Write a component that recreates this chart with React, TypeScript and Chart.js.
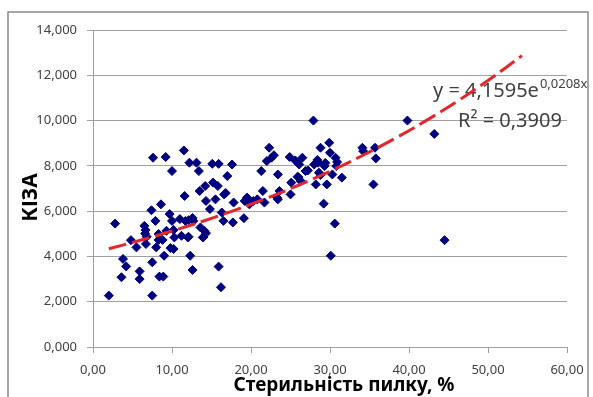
import React, { useEffect, useRef } from 'react';
import { Chart, registerables } from 'chart.js';

Chart.register(...registerables);

// Стерильність пилку, % (x) and КІЗА (y)
const sterility = [
  2.0, 2.8, 3.6, 3.8, 4.2, 4.8, 5.5, 5.9, 5.9, 6.5, 6.6, 6.7, 7.4, 7.6, 7.5, 7.5, 7.9, 8.0, 8.3, 8.6,
  8.4, 8.9, 9.0, 9.2, 9.3, 9.7, 10.0, 10.2, 10.0, 10.3, 11.0, 11.2, 11.5, 11.6, 11.7, 12.0, 12.2, 12.3, 12.6, 12.7,
  13.1, 13.4, 13.5, 13.6, 13.9, 14.1, 14.2, 14.3, 14.8, 15.1, 15.2, 15.5, 15.8, 15.9, 15.9, 16.2, 16.3, 16.5, 16.6, 17.0,
  17.6, 17.7, 17.8, 19.1, 19.2, 19.5, 19.8, 20.3, 20.8, 21.3, 21.5, 21.7, 22.0, 22.3, 22.6, 22.9, 23.4, 23.4, 23.6, 24.9,
  25.0, 25.1, 25.6, 26.1, 26.3, 26.5, 26.9, 27.9, 28.0, 28.2, 28.5, 28.6, 28.8, 29.2, 29.3, 29.6, 29.9, 30.0, 30.1, 30.3,
  30.6, 30.7, 30.8, 31.5, 34.1, 34.2, 35.5, 35.7, 35.8, 39.8, 43.2, 44.5,
  6.65, 8.3, 8.8, 9.8, 10.2, 12.1, 14.0, 14.3, 12.6, 12.1, 6.8, 16.8, 19.5, 23.3, 25.9, 26.0, 27.2, 28.4, 29.4, 30.9, 28.8,
];
const kiza = [
  2.27, 5.45, 3.08, 3.89, 3.56, 4.72, 4.40, 3.34, 3.00, 5.35, 5.01, 4.55, 6.04, 8.36, 3.74, 2.27, 5.57, 4.40, 4.99, 6.30,
  3.11, 3.11, 4.03, 8.39, 5.13, 5.87, 7.77, 4.33, 5.57, 4.84, 5.65, 4.91, 8.68, 6.67, 5.57, 4.84, 8.14, 4.03, 3.40, 5.57,
  8.14, 7.77, 6.89, 5.28, 4.84, 5.13, 7.11, 6.45, 6.09, 8.09, 7.26, 6.52, 7.11, 8.09, 3.55, 2.64, 5.94, 5.57, 6.74, 7.55,
  8.06, 5.50, 6.38, 5.69, 6.45, 6.60, 6.30, 6.45, 6.52, 7.77, 6.89, 6.38, 8.21, 8.80, 8.36, 8.47, 7.62, 6.52, 6.89, 8.39,
  6.74, 7.26, 8.24, 8.06, 7.33, 8.36, 7.77, 10.0, 8.06, 7.18, 8.14, 7.70, 8.80, 6.33, 7.99, 7.18, 9.02, 8.58, 4.03, 7.62,
  5.45, 8.36, 7.99, 7.48, 8.80, 8.65, 7.18, 8.80, 8.33, 10.0, 9.41, 4.72,
  5.17, 4.73, 4.73, 4.37, 5.17, 4.87, 4.86, 5.03, 5.70, 5.60, 4.87, 6.80, 6.49, 6.60, 7.52, 7.50, 7.80, 8.26, 8.13, 8.17, 7.60,
];

// Exponential trend line shown on the chart: y = 4,1595e^(0,0208x)
const TREND_A = 4.1595;
const TREND_B = 0.0208;
const TREND_X = [2, 6, 10, 14, 18, 22, 26, 30, 34, 38, 42, 46, 50, 54.3];
const EQUATION_MAIN = 'y = 4,1595e';
const EQUATION_EXP = '0,0208x';
const R2_TEXT = 'R² = 0,3909';

const X_TITLE = 'Стерильність пилку, %';
const Y_TITLE = 'КІЗА';

export default function App() {
  const ref = useRef<HTMLCanvasElement | null>(null);

  useEffect(() => {
    if (!ref.current) return;
    const points = sterility.map((x, i) => ({ x, y: kiza[i] }));
    const trend = TREND_X.map((x) => ({ x, y: TREND_A * Math.exp(TREND_B * x) }));
    const textColor = '#404040';
    const gridColor = '#a0a0a0';
    const font = '"Noto Sans", sans-serif';

    const framePlugin = {
      id: 'frame',
      beforeDraw(chart: any) {
        const c = chart.ctx;
        c.save();
        c.fillStyle = '#ffffff';
        c.fillRect(0, 0, chart.width, chart.height);
        c.strokeStyle = '#8a8a8a';
        c.lineWidth = 1.5;
        c.strokeRect(8, 12, 580, 420);
        c.restore();
      },
      afterDraw(chart: any) {
        const c = chart.ctx;
        const a = chart.chartArea;
        c.save();
        c.fillStyle = '#000000';
        c.textAlign = 'center';
        c.textBaseline = 'middle';
        c.font = `bold 19px ${font}`;
        c.fillText(X_TITLE, (a.left + a.right) / 2 + 14, a.bottom + 39);
        c.translate(a.left - 62, (a.top + a.bottom) / 2 + 9);
        c.rotate(-Math.PI / 2);
        c.font = `bold 21px ${font}`;
        c.fillText(Y_TITLE, 0, 0);
        c.restore();
      },
    };

    const equationPlugin = {
      id: 'equation',
      beforeDatasetsDraw(chart: any) {
        const c = chart.ctx;
        const area = chart.chartArea;
        c.save();
        c.fillStyle = textColor;
        c.textBaseline = 'alphabetic';
        c.font = `20px ${font}`;
        const x1 = area.right - 134;
        const y1 = area.top + 67;
        c.fillText(EQUATION_MAIN, x1, y1);
        const w = c.measureText(EQUATION_MAIN).width;
        c.font = `13px ${font}`;
        c.fillText(EQUATION_EXP, x1 + w + 1, y1 - 9);
        c.font = `20px ${font}`;
        c.fillText(R2_TEXT, area.right - 109, area.top + 97);
        c.restore();
      },
    };

    const chart = new Chart(ref.current, {
      type: 'scatter',
      data: {
        datasets: [
          {
            label: 'trend',
            data: trend,
            showLine: true,
            borderColor: '#e3262b',
            borderWidth: 3,
            borderDash: [18, 6],
            pointRadius: 0,
            tension: 0.4,
            fill: false,
          } as any,
          {
            label: 'КІЗА',
            data: points,
            pointStyle: 'rectRot',
            pointRadius: 4.5,
            pointBackgroundColor: '#00007f',
            pointBorderColor: '#00007f',
            pointBorderWidth: 1,
            showLine: false,
          } as any,
        ],
      },
      options: {
        animation: false,
        responsive: false,
        layout: { padding: { left: 0, right: 26, top: 30, bottom: 0 } },
        plugins: {
          legend: { display: false },
          tooltip: { enabled: false },
        },
        scales: {
          x: {
            type: 'linear',
            min: 0,
            max: 60,
            afterFit(scale: any) {
              scale.height = 50;
            },
            ticks: {
              stepSize: 10,
              color: textColor,
              font: { family: font, size: 13 },
              padding: 9,
              callback: (v: any) => Number(v).toFixed(2).replace('.', ','),
            },
            grid: { drawOnChartArea: false, drawTicks: true, tickLength: 6, color: gridColor },
            border: { display: true, color: gridColor },
            title: { display: false },
          },
          y: {
            type: 'linear',
            min: 0,
            max: 14,
            afterFit(scale: any) {
              scale.width = 93;
            },
            ticks: {
              stepSize: 2,
              color: textColor,
              font: { family: font, size: 13 },
              padding: 10,
              callback: (v: any) => Number(v).toFixed(3).replace('.', ','),
            },
            grid: { color: gridColor, tickLength: 6, lineWidth: 1 },
            border: { display: true, color: gridColor },
            title: { display: false },
          },
        },
      } as any,
      plugins: [framePlugin, equationPlugin],
    });
    return () => chart.destroy();
  }, []);

  return (
    <div style={{ position: 'absolute', left: 0, top: 0, width: 593, height: 397, overflow: 'hidden' }}>
      <canvas ref={ref} width={593} height={397} style={{ width: 593, height: 397, display: 'block' }} />
    </div>
  );
}
